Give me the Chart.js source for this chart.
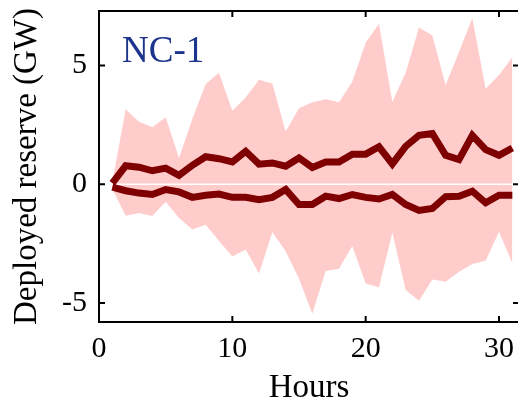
<!DOCTYPE html>
<html><head><meta charset="utf-8">
<script src="https://cdn.jsdelivr.net/npm/chart.js@4/dist/chart.umd.min.js"></script>
<style>
html,body{margin:0;padding:0;overflow:hidden;background:#fff;width:518px;height:408px}
#wrap{width:522px;height:408px}
</style></head>
<body><div id="wrap"><canvas id="c" width="522" height="408"></canvas></div>
<script>
const hours = [1,2,3,4,5,6,7,8,9,10,11,12,13,14,15,16,17,18,19,20,21,22,23,24,25,26,27,28,29,30,31];
const upperLine = [0.05,0.78,0.72,0.57,0.68,0.38,0.80,1.16,1.08,0.94,1.39,0.85,0.90,0.76,1.11,0.71,0.94,0.94,1.27,1.27,1.58,0.86,1.60,2.06,2.14,1.22,1.04,2.06,1.46,1.22,1.53];
const lowerLine = [-0.12,-0.27,-0.37,-0.43,-0.22,-0.32,-0.55,-0.46,-0.41,-0.55,-0.55,-0.65,-0.55,-0.22,-0.85,-0.85,-0.50,-0.60,-0.43,-0.55,-0.62,-0.43,-0.85,-1.10,-1.02,-0.52,-0.50,-0.29,-0.78,-0.46,-0.46];
const upperBand = [0.10,3.16,2.63,2.40,2.82,1.11,2.75,4.23,4.70,3.10,3.66,4.40,4.25,2.22,3.20,3.46,3.58,3.46,4.33,5.96,6.76,3.47,4.70,6.60,6.27,4.18,5.57,7.00,4.02,4.60,5.35];
const lowerBand = [-0.20,-1.32,-1.21,-1.34,-0.74,-1.42,-1.90,-1.70,-2.39,-3.04,-2.75,-3.76,-2.02,-2.82,-3.98,-5.45,-3.65,-3.56,-2.60,-4.18,-4.34,-2.04,-4.45,-4.90,-4.01,-4.10,-3.68,-3.36,-3.22,-2.00,-3.33];
const xTicks = [0,10,20,30];
const yTicks = [-5,0,5];
const panelLabel = 'NC-1';
const xTitle = 'Hours';
const yTitle = 'Deployed reserve (GW)';

const pts = arr => hours.map((h,i)=>({x:h,y:arr[i]}));
const FONT = "'Liberation Serif','Times New Roman',serif";

const boxPlugin = {
  id:'box',
  afterDatasetsDraw(chart){
    const {ctx, chartArea:a, scales:{x,y}} = chart;
    ctx.save();
    ctx.strokeStyle='#000'; ctx.lineWidth=2;
    ctx.strokeRect(a.left, a.top, a.right-a.left, a.bottom-a.top);
    const tl=6;
    ctx.beginPath();
    xTicks.forEach(v=>{const px=x.getPixelForValue(v);
      ctx.moveTo(px,a.bottom); ctx.lineTo(px,a.bottom-tl);
      ctx.moveTo(px,a.top); ctx.lineTo(px,a.top+tl);});
    yTicks.forEach(v=>{const py=y.getPixelForValue(v);
      ctx.moveTo(a.left,py); ctx.lineTo(a.left+tl,py);
      ctx.moveTo(a.right,py); ctx.lineTo(a.right-tl,py);});
    ctx.stroke();
    ctx.fillStyle='rgb(28,52,140)';
    ctx.font = "37px "+FONT;
    ctx.textBaseline='alphabetic'; ctx.textAlign='left';
    ctx.fillText(panelLabel, a.left+23, a.top+51);
    ctx.restore();
  }
};

new Chart(document.getElementById('c'), {
  type:'line',
  data:{datasets:[
    {data:pts(upperBand), fill:'origin', backgroundColor:'#ffcccc', borderWidth:0, pointRadius:0, order:3},
    {data:pts(lowerBand), fill:'origin', backgroundColor:'#ffcccc', borderWidth:0, pointRadius:0, order:3},
    {data:hours.map(h=>({x:h,y:0})), fill:false, borderColor:'#ffffff', borderWidth:1.5, pointRadius:0, order:2},
    {data:pts(upperLine), fill:false, borderColor:'#7f0000', borderWidth:7, pointRadius:0, order:1},
    {data:pts(lowerLine), fill:false, borderColor:'#7f0000', borderWidth:7, pointRadius:0, order:1}
  ]},
  options:{
    responsive:false, animation:false, events:[],
    layout:{padding:{left:0,right:3,top:11,bottom:0}},
    plugins:{legend:{display:false}, tooltip:{enabled:false}},
    scales:{
      x:{type:'linear', min:0, max:31.5,
        grid:{display:false, drawTicks:false}, border:{display:false},
        afterBuildTicks:s=>{s.ticks=xTicks.map(v=>({value:v}));},
        ticks:{font:{family:FONT,size:30}, color:'#000', padding:9, maxRotation:0},
        title:{display:true, text:xTitle, font:{family:FONT,size:33,lineHeight:1.2}, color:'#000', padding:{top:0,bottom:0}},
        afterFit:s=>{s.height=86; s.paddingLeft=0; s.paddingRight=0;}
      },
      y:{type:'linear', min:-5.8, max:7.3,
        grid:{display:false, drawTicks:false}, border:{display:false},
        afterBuildTicks:s=>{s.ticks=yTicks.map(v=>({value:v}));},
        ticks:{font:{family:FONT,size:30}, color:'#000', padding:12},
        title:{display:true, text:yTitle, font:{family:FONT,size:33,lineHeight:1.2}, color:'#000', padding:{top:8,bottom:0}},
        afterFit:s=>{s.width=99; s.paddingTop=0; s.paddingBottom=0;}
      }
    }
  },
  plugins:[boxPlugin]
});
</script></body></html>
